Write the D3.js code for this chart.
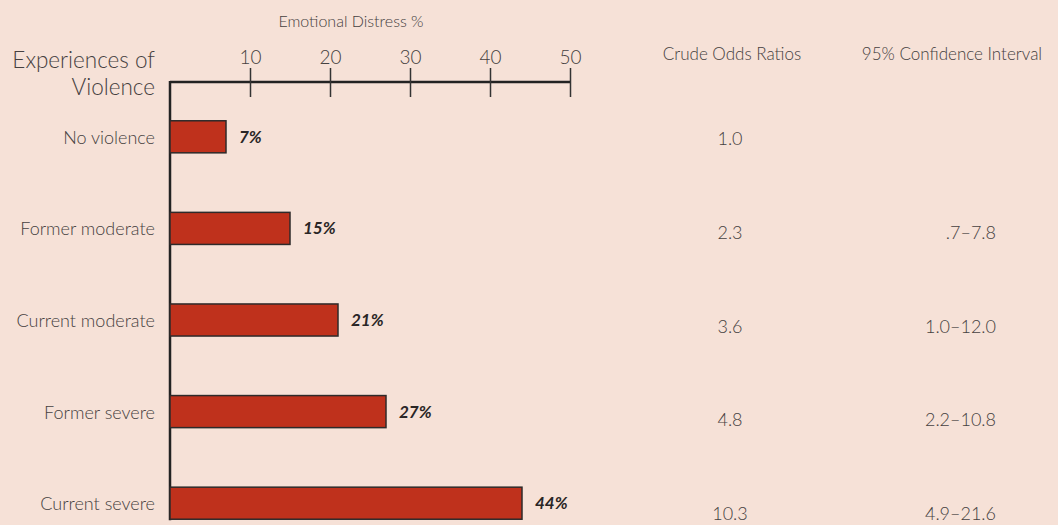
<!DOCTYPE html>
<html>
<head>
<meta charset="utf-8">
<script src="https://cdn.jsdelivr.net/npm/d3@7"></script>
<style>
  html, body { margin: 0; padding: 0; background: #f6e1d7; }
  svg { display: block; }
</style>
</head>
<body>
<script>
// ---------- DATA ----------
var categories = ["No violence", "Former moderate", "Current moderate", "Former severe", "Current severe"];
var distress = [7, 15, 21, 27, 44];
var oddsRatios = ["1.0", "2.3", "3.6", "4.8", "10.3"];
var confInt = ["", ".7\u20137.8", "1.0\u201312.0", "2.2\u201310.8", "4.9\u201321.6"];
var tickValues = [10, 20, 30, 40, 50];

// ---------- DIMENSIONS ----------
var w = 1058, h = 525;
var font = "Lato, 'Open Sans', sans-serif";
var textCol = "#454040";

var svg = d3.select("body").append("svg")
  .attr("width", w)
  .attr("height", h);

svg.append("rect").attr("width", w).attr("height", h).attr("fill", "#f6e1d7");

// ---------- SCALES ----------
var x = d3.scaleLinear().domain([0, 50]).range([170, 570]);

var y = d3.scaleBand()
  .domain(categories)
  .range([91, 549])
  .paddingInner(0.65)
  .paddingOuter(0.325);

// table rows sit a bit lower than bars toward the bottom
var tableY = d3.scalePoint().domain(categories).range([145, 520]);

var axisY = 82;

// ---------- TOP AXIS ----------
var axis = d3.axisTop(x)
  .tickValues(tickValues)
  .tickSizeInner(15)
  .tickSizeOuter(0)
  .tickPadding(3);

var gAxis = svg.append("g")
  .attr("transform", "translate(0," + axisY + ")")
  .call(axis);

gAxis.select(".domain")
  .attr("d", "M" + x(0) + ",0H" + x(50))
  .attr("stroke", "#222")
  .attr("stroke-width", 2.5);

gAxis.selectAll(".tick line")
  .attr("y1", 15)
  .attr("y2", -14)
  .attr("stroke", "#333")
  .attr("stroke-width", 1.5);

gAxis.selectAll(".tick text")
  .attr("font-family", font)
  .attr("font-weight", 300)
  .attr("font-size", "19px")
  .attr("fill", textCol);

svg.append("text")
  .text("Emotional Distress %")
  .attr("x", 351)
  .attr("y", 27)
  .attr("text-anchor", "middle")
  .attr("font-family", font)
  .attr("font-weight", 300)
  .attr("font-size", "16px")
  .attr("fill", textCol);

// vertical axis line
var yBottom = y(categories[categories.length - 1]) + y.bandwidth();
svg.append("line")
  .attr("x1", x(0)).attr("x2", x(0))
  .attr("y1", axisY - 1).attr("y2", yBottom + 1)
  .attr("stroke", "#222")
  .attr("stroke-width", 2.5);

// title of the category column
var title = svg.append("text")
  .attr("text-anchor", "end")
  .attr("font-family", font)
  .attr("font-weight", 300)
  .attr("font-size", "22.5px")
  .attr("fill", textCol);
title.append("tspan").attr("x", 155).attr("y", 68).text("Experiences of");
title.append("tspan").attr("x", 155).attr("y", 95).text("Violence");

// ---------- BARS ----------
var rows = categories.map(function (c, i) {
  return { cat: c, value: distress[i], odds: oddsRatios[i], ci: confInt[i] };
});

svg.selectAll("rect.bar")
  .data(rows)
  .enter()
  .append("rect")
  .attr("class", "bar")
  .attr("x", x(0))
  .attr("y", d => y(d.cat))
  .attr("width", d => x(d.value) - x(0))
  .attr("height", y.bandwidth())
  .attr("fill", "#bf311c")
  .attr("stroke", "#2e2a2a")
  .attr("stroke-width", 1.5);

// value labels
svg.selectAll("text.val")
  .data(rows)
  .enter()
  .append("text")
  .attr("class", "val")
  .text(d => d.value + "%")
  .attr("x", d => x(d.value) + 13)
  .attr("y", d => y(d.cat) + y.bandwidth() / 2 + 6)
  .attr("font-family", font)
  .attr("font-weight", 700)
  .attr("font-style", "italic")
  .attr("font-size", "17px")
  .attr("fill", "#2a2626");

// category labels
svg.selectAll("text.cat")
  .data(rows)
  .enter()
  .append("text")
  .attr("class", "cat")
  .text(d => d.cat)
  .attr("x", 155)
  .attr("y", d => y(d.cat) + y.bandwidth() / 2 + 7)
  .attr("text-anchor", "end")
  .attr("font-family", font)
  .attr("font-weight", 300)
  .attr("font-size", "18px")
  .attr("fill", textCol);

// ---------- TABLE COLUMNS ----------
svg.append("text")
  .text("Crude Odds Ratios")
  .attr("x", 732).attr("y", 60)
  .attr("text-anchor", "middle")
  .attr("font-family", font)
  .attr("font-weight", 300)
  .attr("font-size", "17px")
  .attr("fill", textCol);

svg.append("text")
  .text("95% Confidence Interval")
  .attr("x", 952).attr("y", 60)
  .attr("text-anchor", "middle")
  .attr("font-family", font)
  .attr("font-weight", 300)
  .attr("font-size", "17px")
  .attr("fill", textCol);

svg.selectAll("text.odds")
  .data(rows)
  .enter()
  .append("text")
  .attr("class", "odds")
  .text(d => d.odds)
  .attr("x", 730)
  .attr("y", d => tableY(d.cat))
  .attr("text-anchor", "middle")
  .attr("font-family", font)
  .attr("font-weight", 300)
  .attr("font-size", "18px")
  .attr("fill", textCol);

svg.selectAll("text.ci")
  .data(rows)
  .enter()
  .append("text")
  .attr("class", "ci")
  .text(d => d.ci)
  .attr("x", 996)
  .attr("y", d => tableY(d.cat))
  .attr("text-anchor", "end")
  .attr("font-family", font)
  .attr("font-weight", 300)
  .attr("font-size", "18px")
  .attr("fill", textCol);
</script>
</body>
</html>
